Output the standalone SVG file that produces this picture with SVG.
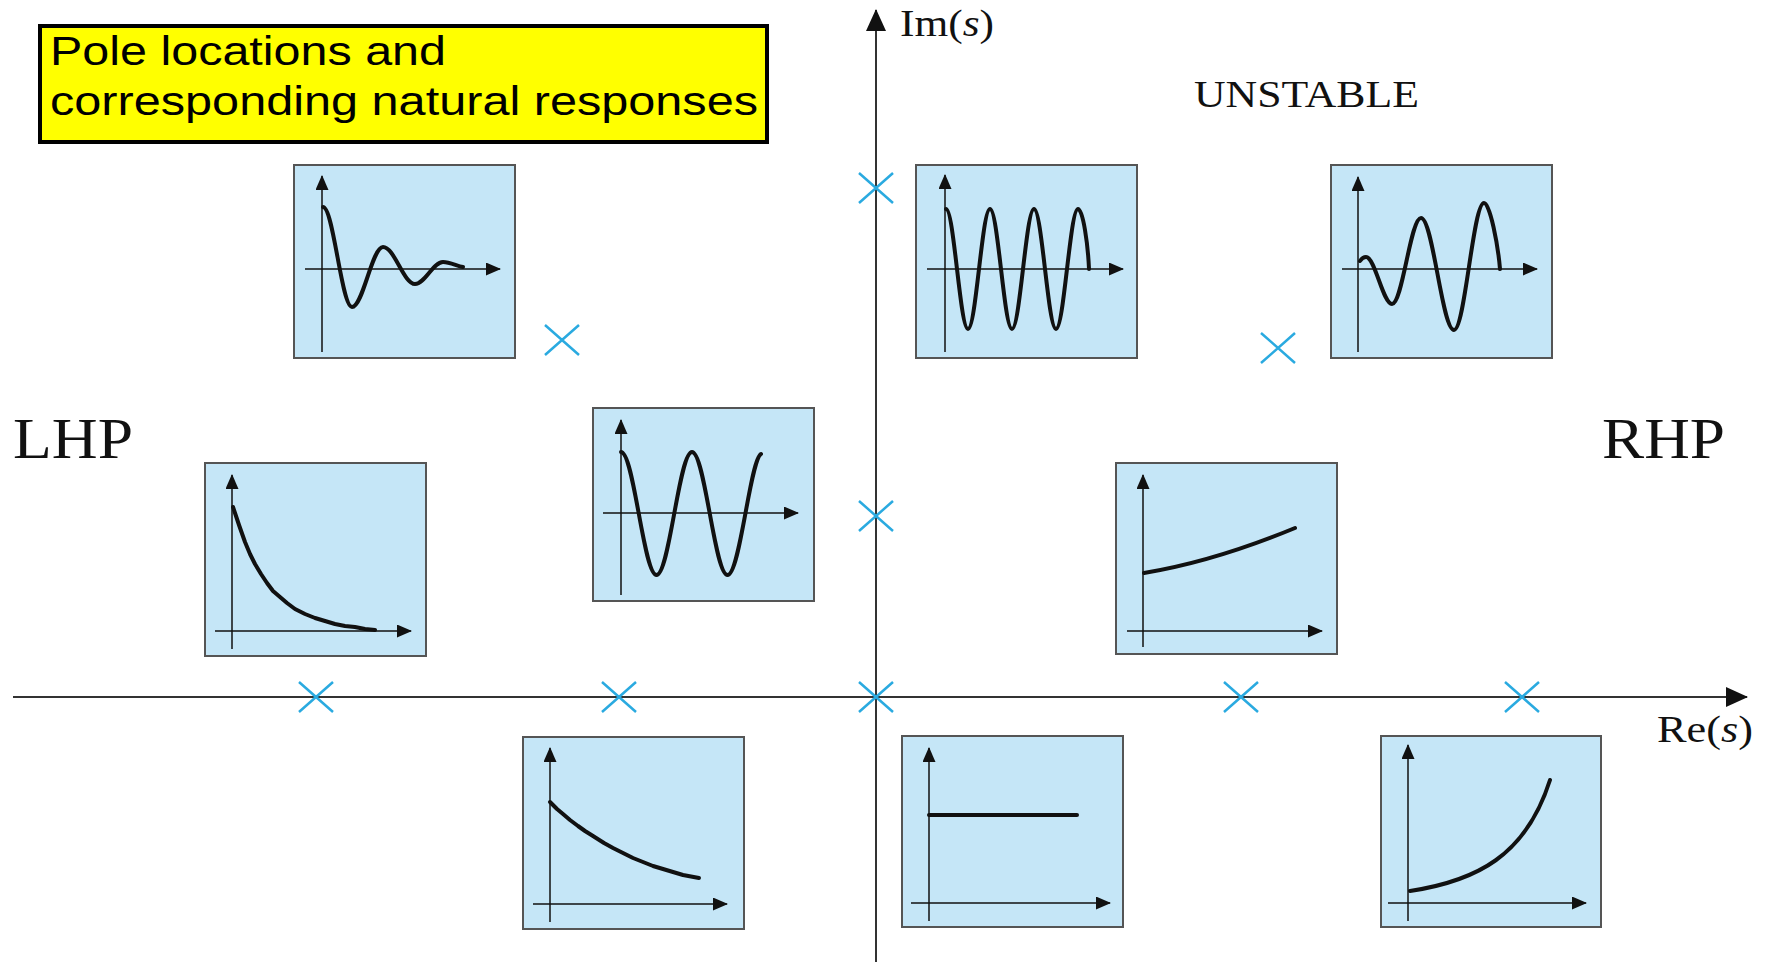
<svg xmlns="http://www.w3.org/2000/svg" width="1771" height="962" viewBox="0 0 1771 962">
<defs>
<marker id="ah" markerUnits="userSpaceOnUse" markerWidth="15" markerHeight="13" refX="14" refY="6.5" orient="auto"><path d="M0,0 L15,6.5 L0,13 z" fill="#111"/></marker>
<marker id="bigah" markerUnits="userSpaceOnUse" markerWidth="22" markerHeight="22" refX="21" refY="11" orient="auto"><path d="M0,1 L22,11 L0,21 z" fill="#111"/></marker>
<path id="pole" d="M-17,-15 L17,15 M-17,15 L17,-15"/>
<style>
.panel{fill:#c5e6f7;stroke:#555;stroke-width:2}
.ax{stroke:#111;stroke-width:1.5;fill:none;marker-end:url(#ah)}
.crv{stroke:#111;stroke-width:4;fill:none;stroke-linejoin:round;stroke-linecap:round}
.pole{stroke:#2aaae0;stroke-width:2.5;fill:none}
.main{stroke:#333;stroke-width:2;fill:none;marker-end:url(#bigah)}
.serif{font-family:"Liberation Serif","Times New Roman",serif;fill:#111}
.sans{font-family:"Liberation Sans",Arial,sans-serif;fill:#000}
</style>
</defs>
<rect width="1771" height="962" fill="#fff"/>

<g id="title">
<rect x="40" y="26" width="727" height="116" fill="#ffff00" stroke="#000" stroke-width="4"/>
<text class="sans" x="50" y="65" font-size="40" textLength="396" lengthAdjust="spacingAndGlyphs">Pole locations and</text>
<text class="sans" x="50" y="115" font-size="40" textLength="708" lengthAdjust="spacingAndGlyphs">corresponding natural responses</text>
</g>

<g id="connectors">
<path id="im-axis" class="main" d="M876,962 V10"/>
<path id="re-axis" class="main" d="M13,697 H1747"/>
</g>

<g id="labels">
<text class="serif" x="900" y="36" font-size="38" textLength="94" lengthAdjust="spacingAndGlyphs">Im(<tspan font-style="italic">s</tspan>)</text>
<text class="serif" x="1657" y="742" font-size="38" textLength="96" lengthAdjust="spacingAndGlyphs">Re(<tspan font-style="italic">s</tspan>)</text>
<text class="serif" x="1194" y="107" font-size="37" textLength="225" lengthAdjust="spacingAndGlyphs">UNSTABLE</text>
<text class="serif" x="13" y="458" font-size="58" textLength="120" lengthAdjust="spacingAndGlyphs">LHP</text>
<text class="serif" x="1602" y="458" font-size="58" textLength="123" lengthAdjust="spacingAndGlyphs">RHP</text>
</g>

<g id="poles" class="pole">
<use id="p1" href="#pole" x="562" y="340"/>
<use id="p2" href="#pole" x="876" y="188"/>
<use id="p3" href="#pole" x="1278" y="348"/>
<use id="p4" href="#pole" x="876" y="516"/>
<use id="p5" href="#pole" x="316" y="697"/>
<use id="p6" href="#pole" x="619" y="697"/>
<use id="p7" href="#pole" x="876" y="697"/>
<use id="p8" href="#pole" x="1241" y="697"/>
<use id="p9" href="#pole" x="1522" y="697"/>
</g>

<g id="resp-decaying-osc" transform="translate(294,165)">
<rect class="panel" width="221" height="193"/>
<path class="ax" d="M11,104 H206"/>
<path class="ax" d="M28,187 V11"/>
<path class="crv" d="M29,42 C39.5,42 47.5,142 58,142 C69,142 78,82 89,82 C100.5,82 109.5,119 121,119 C131,119 139,97 149,97 C156,97 163,101 169,102"/>
</g>

<g id="resp-pure-osc-top" transform="translate(916,165)">
<rect class="panel" width="221" height="193"/>
<path class="ax" d="M11,104 H207"/>
<path class="ax" d="M29,187 V10"/>
<path class="crv" d="M30,44 C38,44 44,164 52,164 C60,164 66,44 74,44 C82,44 88,164 96,164 C104,164 110,44 118,44 C126,44 132,164 140,164 C148,164 154,44 162,44 C167,44 172,80 173,104"/>
</g>

<g id="resp-growing-osc" transform="translate(1331,165)">
<rect class="panel" width="221" height="193"/>
<path class="ax" d="M11,104 H206"/>
<path class="ax" d="M27,187 V12"/>
<path class="crv" d="M29,96 C31,93 33,92 35,92 C44,92 52,139 61,139 C71.5,139 79.5,53 90,53 C102,53 111,165 123,165 C134,165 142,38 153,38 C159,38 167,80 169,104"/>
</g>

<g id="resp-decay-lhp" transform="translate(205,463)">
<rect class="panel" width="221" height="193"/>
<path class="ax" d="M10,168 H206"/>
<path class="ax" d="M27,186 V12"/>
<path class="crv" d="M28,44 L34,62 L40,79 L45,91 L50,101 L56,111 L62,120 L68,128 L75,134 L82,140 L90,146 L100,151 L110,155 L120,158 L130,161 L140,163 L150,164 L160,166 L170,167"/>
</g>

<g id="resp-pure-osc-mid" transform="translate(593,408)">
<rect class="panel" width="221" height="193"/>
<path class="ax" d="M10,105 H205"/>
<path class="ax" d="M28,187 V12"/>
<path class="crv" d="M28,44 C41,44 50.5,167 63.5,167 C76.5,167 86,44 99,44 C112,44 121.5,167 134.5,167 C147,167 157,52 168,46"/>
</g>

<g id="resp-slow-growth" transform="translate(1116,463)">
<rect class="panel" width="221" height="191"/>
<path class="ax" d="M11,168 H206"/>
<path class="ax" d="M27,184 V12"/>
<path class="crv" d="M28,110 Q98,98.5 179,65"/>
</g>

<g id="resp-decay-bottom" transform="translate(523,737)">
<rect class="panel" width="221" height="192"/>
<path class="ax" d="M10,167 H204"/>
<path class="ax" d="M27,185 V11"/>
<path class="crv" d="M27,65 L34,72 L40,77 L47,83 L55,89 L62,94 L70,99 L81,106 L90,111 L100,116 L110,121 L120,125 L130,129 L140,132 L150,135 L160,138 L176,141"/>
</g>

<g id="resp-constant" transform="translate(902,736)">
<rect class="panel" width="221" height="191"/>
<path class="ax" d="M9,167 H208"/>
<path class="ax" d="M27,185 V12"/>
<path class="crv" d="M27,79 H175"/>
</g>

<g id="resp-growth" transform="translate(1381,736)">
<rect class="panel" width="220" height="191"/>
<path class="ax" d="M7,167 H205"/>
<path class="ax" d="M27,185 V9"/>
<path class="crv" d="M29,155 C95,145 145,120 169,44"/>
</g>
</svg>
